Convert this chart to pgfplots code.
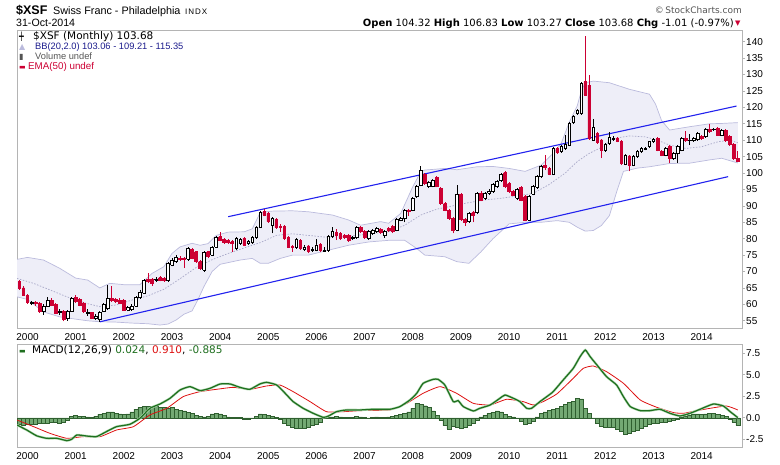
\documentclass[border=0pt]{standalone}
\usepackage{pgfplots}
\pgfplotsset{compat=1.18}
\usepackage{pgfplotstable}
\usepackage{fontspec}
\setmainfont{Liberation Sans}
\newfontfamily\dejavu{DejaVu Sans}
\definecolor{candlered}{HTML}{CC0033}
\definecolor{bbfill}{HTML}{EEEEF8}
\definecolor{bbedge}{HTML}{BBBBDD}
\definecolor{bbmid}{HTML}{A8A8C8}
\definecolor{chan}{HTML}{2222EE}
\definecolor{framegray}{HTML}{B4B4B4}
\definecolor{macdgreen}{HTML}{1F6F1F}
\definecolor{macdglow}{HTML}{B8DEB8}
\definecolor{sigred}{HTML}{DD1111}
\definecolor{histfill}{HTML}{73A973}
\definecolor{histedge}{HTML}{2F5F2F}
\definecolor{bbtext}{HTML}{1A1A8C}
\definecolor{txtgray}{HTML}{555555}

% up (hollow) candles: month index (0 = Jan 2000), open, high, low, close
\pgfplotstableread{
m o h l c
1 60.3 61.0 59.8 60.5
4 58.0 60.0 56.9 59.5
5 59.5 62.1 59.2 61.3
8 57.5 58.5 56.8 57.8
10 55.6 58.3 55.0 57.9
11 57.9 62.2 57.6 61.8
15 57.3 58.5 56.5 57.6
17 55.7 57.0 55.2 56.3
18 55.4 58.0 54.6 57.7
19 58.0 60.4 57.6 60.0
20 58.8 65.9 58.4 61.8
25 58.2 59.4 57.9 59.0
26 58.4 60.0 58.1 59.5
27 59.5 62.4 59.2 62.0
28 62.0 64.4 61.7 63.8
29 63.5 67.8 63.2 67.4
32 67.4 68.3 66.9 67.7
35 67.2 72.8 66.9 72.5
36 72.0 74.0 71.6 73.5
37 73.0 75.0 72.6 74.3
40 73.7 77.4 73.3 77.0
44 70.4 76.1 70.0 75.7
46 75.0 77.9 74.7 77.5
47 77.5 80.8 77.2 80.4
52 77.0 80.5 76.6 80.1
53 78.6 80.3 78.2 79.8
55 78.6 79.6 78.2 79.1
56 78.8 80.8 78.4 80.4
57 80.4 84.0 80.0 83.6
58 83.6 88.4 83.2 88.0
61 84.1 86.6 81.6 86.2
67 77.3 80.2 76.9 79.8
69 76.8 78.0 76.4 77.5
71 76.5 77.5 76.0 76.8
72 76.5 80.0 76.1 78.1
74 76.2 77.6 76.0 76.5
75 76.3 81.0 76.0 80.6
76 80.6 83.6 80.2 82.1
81 80.1 80.9 79.7 80.4
82 80.4 83.8 80.0 83.4
85 80.1 82.5 79.7 82.1
86 81.6 83.0 81.2 82.6
87 82.1 83.5 81.7 83.1
89 81.1 82.5 80.3 82.1
92 82.6 86.3 82.2 85.9
93 85.7 86.6 85.3 86.2
94 86.2 89.0 85.0 88.5
96 88.7 92.7 88.3 92.3
97 92.8 96.2 92.4 95.8
98 96.3 102.0 95.9 100.7
100 95.8 97.7 95.4 97.3
101 96.0 98.3 95.6 97.9
107 82.6 96.5 82.2 93.5
110 85.2 88.1 84.8 87.7
112 87.9 94.2 87.5 93.8
114 92.3 94.2 91.9 93.8
115 93.8 95.0 93.4 94.5
116 94.3 96.9 93.9 96.5
117 95.8 98.0 95.4 97.6
118 97.7 100.1 97.3 99.7
122 92.3 95.4 91.9 95.0
125 85.7 93.2 85.3 92.8
126 93.6 96.4 93.2 96.0
127 95.6 99.3 95.2 98.9
128 98.9 102.3 98.5 101.9
131 99.7 107.9 99.3 107.5
133 106.5 108.4 106.1 108.0
134 107.5 111.6 107.1 108.8
135 108.5 115.5 108.1 115.1
136 115.3 117.8 114.9 117.4
137 118.2 119.6 117.8 119.2
138 118.2 127.7 117.8 127.3
141 110.1 116.6 109.7 113.9
144 106.8 109.2 106.4 108.8
145 109.0 112.5 108.6 110.8
146 110.4 111.2 109.8 110.6
149 102.7 105.9 102.3 105.5
151 102.4 105.4 102.0 105.0
152 105.0 106.9 104.6 106.5
153 106.5 107.9 106.1 107.5
154 107.3 108.0 106.9 107.6
155 108.0 109.9 107.6 109.5
156 109.5 110.6 109.1 110.2
159 105.5 107.9 105.1 107.5
161 104.5 106.4 104.1 106.0
162 106.0 108.4 103.0 108.0
163 107.0 110.9 106.6 110.5
165 109.9 112.0 108.5 110.1
166 110.0 110.9 109.6 110.5
167 110.2 112.5 109.8 112.1
169 111.1 113.7 110.7 113.3
171 113.2 113.8 112.8 113.4
173 111.6 113.3 111.2 112.9
}\upc

% down (red) candles
\pgfplotstableread{
m o h l c
-2 67.0 67.3 64.5 65.0
-1 65.0 65.5 62.5 62.8
0 62.8 63.2 60.2 60.5
2 60.5 61.0 59.6 60.2
3 60.3 60.6 57.4 57.8
6 61.3 61.8 59.5 59.8
7 60.0 60.3 57.0 57.4
9 57.9 58.2 54.8 55.3
12 62.2 63.0 60.5 60.9
13 61.5 61.8 59.4 59.8
14 60.3 60.6 57.4 57.8
16 57.5 57.8 55.4 55.8
21 61.9 65.6 60.8 61.1
22 61.5 62.0 60.5 60.8
23 61.3 61.8 60.0 60.3
24 61.1 61.5 58.0 58.2
30 67.7 69.4 66.5 66.9
31 67.6 68.0 65.6 66.4
33 68.1 68.6 67.0 67.4
34 67.9 68.4 66.9 67.2
38 74.0 74.6 73.3 73.7
39 74.0 74.4 71.0 73.7
41 76.8 77.2 73.7 74.0
42 76.0 76.4 72.6 73.0
43 73.0 73.4 70.5 71.0
45 76.0 76.4 74.0 74.5
48 80.6 82.1 79.2 79.6
49 79.8 80.2 78.4 78.8
50 79.6 80.0 78.4 78.8
51 79.1 79.5 76.0 78.6
54 80.1 80.5 77.7 78.1
59 88.2 88.9 86.8 87.2
60 87.7 88.1 84.8 85.2
62 85.9 86.3 83.0 83.4
63 83.7 84.5 82.1 83.5
64 83.8 84.2 79.7 80.1
65 80.4 80.8 77.1 77.5
66 77.7 78.2 76.0 77.4
68 79.6 80.0 76.6 77.0
70 77.8 78.2 75.6 76.0
73 78.3 78.7 75.9 76.3
77 81.8 83.1 79.6 81.1
78 81.6 82.0 79.7 80.1
79 81.1 81.5 80.0 80.4
80 81.1 81.5 79.0 79.4
83 83.4 84.0 81.7 82.1
84 82.1 82.5 80.0 80.4
88 82.8 83.2 81.4 81.8
90 83.1 83.5 82.0 82.4
91 83.8 84.2 81.7 82.1
95 88.7 89.1 86.9 88.2
99 99.7 100.1 96.4 96.8
102 98.7 99.1 95.6 96.0
103 95.3 95.7 90.3 90.7
104 90.7 91.1 88.3 88.7
105 88.7 89.1 85.8 86.2
106 86.2 86.6 81.6 82.6
108 93.5 93.9 85.5 85.9
109 85.9 86.3 84.0 84.9
111 87.9 88.4 85.0 87.2
113 93.8 94.6 91.4 91.8
119 100.1 100.5 95.4 95.8
120 96.8 97.2 93.9 94.3
121 94.5 94.9 92.9 93.3
123 95.6 96.0 91.4 91.8
124 92.8 93.2 85.3 85.7
129 102.4 105.4 100.9 101.7
130 101.4 101.8 99.3 99.7
132 107.5 107.9 105.8 106.2
139 127.8 141.8 123.4 123.8
140 126.8 130.0 110.2 110.6
142 112.1 112.5 108.9 109.3
143 110.1 110.5 104.5 107.0
147 110.6 111.0 109.3 109.7
148 109.7 110.1 102.4 102.8
150 105.2 105.6 100.5 102.4
157 110.5 110.9 106.6 107.0
158 106.5 106.9 105.1 105.5
160 108.0 108.4 103.0 104.5
164 110.5 112.8 109.6 110.0
168 111.1 111.5 110.2 110.6
170 113.3 115.0 112.2 112.6
172 113.6 114.0 111.2 111.6
174 113.0 113.4 109.6 110.0
175 111.1 111.5 108.3 108.7
176 108.7 109.1 104.1 104.5
177 104.32 106.83 103.27 103.68
}\dnc

% Bollinger band (20,2): upper, lower, middle
\pgfplotstableread{
m v
-2.62 73.7
0 74.3
4 73.5
8 71.0
12 68.0
15 67.4
18 65.0
20.5 66.4
24 66.0
28 66.0
31 69.4
34 71.5
36 75.5
38 77.5
41 78.6
43 78.0
45 78.5
47 81.0
50 82.0
54 82.1
56 83.0
58 88.0
61 88.4
66 88.5
70 88.2
76 87.2
80 85.7
83 84.1
88 85.2
90 84.7
93 87.7
96 95.8
98 100.4
99 100.9
104 101.4
107 101.0
112 101.9
116 102.0
120 101.4
124 100.5
128 102.4
131 106.0
133 109.0
135 115.5
137 120.5
138 125.0
139 127.5
141 128.0
145 127.5
150 125.5
155 124.0
156.5 121.0
158 116.0
160 113.1
165 114.1
170 115.0
173 115.1
177 115.35
}\bbup

\pgfplotstableread{
m v
-2.62 62.3
0 61.5
4 57.7
8 56.2
12 55.5
15 55.0
18 54.7
22 54.6
26 54.3
30 54.1
33 53.7
35 54.0
37 55.2
39 57.0
41 58.0
42.5 61.5
44 65.5
46 70.0
48 72.2
53 73.5
56 74.0
58 72.5
60 72.5
63 74.0
66 75.0
70 75.0
75 76.5
80 78.0
85 79.0
90 79.5
94 79.5
97 77.0
99 75.0
104 74.5
107 73.0
110 72.5
113 76.0
116 80.0
120 84.5
124 85.0
128 85.0
132 85.5
135 85.0
137 83.5
139 82.3
141 82.5
143 84.0
145 87.0
147 95.0
148.5 100.5
152 101.5
155 101.9
160 102.9
165 103.0
170 104.0
173 104.5
177 103.06
}\bblo

% band area: upper edge forward, then lower edge backward
\pgfplotstableread{
m v
-2.62 73.7
0 74.3
4 73.5
8 71.0
12 68.0
15 67.4
18 65.0
20.5 66.4
24 66.0
28 66.0
31 69.4
34 71.5
36 75.5
38 77.5
41 78.6
43 78.0
45 78.5
47 81.0
50 82.0
54 82.1
56 83.0
58 88.0
61 88.4
66 88.5
70 88.2
76 87.2
80 85.7
83 84.1
88 85.2
90 84.7
93 87.7
96 95.8
98 100.4
99 100.9
104 101.4
107 101.0
112 101.9
116 102.0
120 101.4
124 100.5
128 102.4
131 106.0
133 109.0
135 115.5
137 120.5
138 125.0
139 127.5
141 128.0
145 127.5
150 125.5
155 124.0
156.5 121.0
158 116.0
160 113.1
165 114.1
170 115.0
173 115.1
177 115.35
177 103.06
173 104.5
170 104.0
165 103.0
160 102.9
155 101.9
152 101.5
148.5 100.5
147 95.0
145 87.0
143 84.0
141 82.5
139 82.3
137 83.5
135 85.0
132 85.5
128 85.0
124 85.0
120 84.5
116 80.0
113 76.0
110 72.5
107 73.0
104 74.5
99 75.0
97 77.0
94 79.5
90 79.5
85 79.0
80 78.0
75 76.5
70 75.0
66 75.0
63 74.0
60 72.5
58 72.5
56 74.0
53 73.5
48 72.2
46 70.0
44 65.5
42.5 61.5
41 58.0
39 57.0
37 55.2
35 54.0
33 53.7
30 54.1
26 54.3
22 54.6
18 54.7
15 55.0
12 55.5
8 56.2
4 57.7
0 61.5
-2.62 62.3
}\bbarea

\pgfplotstableread{
m v
-2.62 67.9
1.5 66.4
5.6 64.4
9.8 62.3
14.7 60.3
18 59.3
22 59.8
26 61.3
30 62.6
34 64.6
38 67.8
42 71.2
46 73.6
50 75.5
54 77.2
58 78.8
62 81.0
66 81.5
70 81.0
74 80.5
78 80.5
82 81.0
86 81.6
90 82.1
94 84.1
98 87.2
102 89.0
106 90.0
110 91.0
114 91.8
118 92.3
122 93.0
126 93.8
130 96.5
134 100.0
137 103.5
140 106.0
143 107.8
146 110.5
150 111.3
154 111.0
157 110.0
160 108.5
164 107.5
168 108.0
172 109.5
175 110.0
177 109.21
}\bbmid

\pgfplotstableread{
m v
-2.62 -0.84
-0.2 -1.42
2.3 -2.1
4.8 -2.39
7.3 -2.39
9.8 -2.66
11 -2.5
12.3 -2.0
14.7 -2.12
17.2 -2.19
19.7 -1.6
22.2 -1.03
25.5 -0.76
28 -0.06
30.5 1.1
33 1.6
35.5 2.26
38 3.23
40.5 3.62
43 3.16
45.5 3.43
48 3.93
50.5 3.93
52.9 3.54
55.4 3.31
57.9 3.93
59.6 4.12
62.1 3.81
64.2 2.85
66.2 1.88
68.7 1.1
71.2 0.52
73.7 0.05
75 0.2
77 0.71
79.5 0.91
82.9 0.91
86.2 0.99
90.3 0.99
92.8 1.3
95.3 2.07
97 2.85
98.6 4.01
101.1 4.47
102.3 4.47
104 3.81
106.1 1.88
107.3 2.0
108.6 1.3
111.1 0.79
112.7 1.1
115.3 1.49
117.7 2.26
119 2.65
121.1 2.26
122.7 1.88
124.4 1.1
125.6 1.1
127.7 1.88
129.4 2.46
131 3.04
133.5 4.4
136 5.75
137.7 7.11
139 7.88
140.2 7.11
141.9 6.14
144.3 4.78
146.8 3.81
148.5 2.46
150.2 1.3
152.7 0.83
155.1 0.83
157.6 0.99
160.1 0.52
162.6 0.21
165.1 0.52
167.6 0.99
170.9 1.6
173.4 1.37
175.1 0.71
177 0.024
}\macd

\pgfplotstableread{
m v
-2.62 -0.26
1.5 -1.03
5.6 -1.81
9.8 -2.39
13.9 -2.19
18.1 -2.19
22.2 -1.42
26.4 -1.03
30.5 0.33
34.7 1.1
38.8 2.46
43 3.04
47.1 3.31
51.3 3.54
55.4 3.31
59.6 3.7
62.9 3.81
66.2 3.04
70.4 1.88
74.5 0.71
78.7 0.71
82.9 0.83
90.3 0.91
94.5 1.68
98.6 2.85
102.8 3.62
106.9 2.85
111.1 1.68
115.3 1.49
119.4 2.15
123.5 1.88
126 1.49
128.5 1.88
131.9 2.77
136 4.59
138.5 5.75
141 6.02
144.3 5.36
148.5 4.01
152.7 2.07
156.8 1.22
161 0.6
163.5 0.52
166.8 0.83
170.1 1.1
174.2 1.37
177 0.91
}\signal

\pgfplotstableread{
m v
-2 -0.8
-1 -0.85
0 -0.8
1 -0.75
2 -0.7
3 -0.65
4 -0.6
5 -0.6
6 -0.55
7 -0.55
8 -0.6
9 -0.5
10 -0.3
11 0.2
12 0.25
13 0.2
14 0.15
15 0.1
16 0.05
17 0.2
18 0.4
19 0.55
20 0.7
21 0.7
22 0.55
23 0.45
24 0.4
25 0.45
26 0.7
27 1.0
28 1.2
29 1.3
30 1.3
31 1.35
32 1.3
33 1.2
34 1.2
35 1.1
36 1.2
37 1.0
38 0.9
39 0.8
40 0.6
41 0.5
42 0.3
43 0.15
44 0.1
45 0.2
46 0.45
47 0.5
48 0.45
49 0.3
50 0.1
51 0.05
52 0.02
53 0.02
54 -0.2
55 -0.2
56 -0.05
57 0.2
58 0.45
59 0.4
60 0.3
61 0.2
62 0.05
63 -0.2
64 -0.6
65 -0.9
66 -1.1
67 -1.2
68 -1.2
69 -1.2
70 -1.1
71 -0.9
72 -0.8
73 -0.5
74 -0.1
75 0.02
76 0.1
77 0.15
78 0.1
79 0.05
80 0.05
81 0.05
82 0.15
83 0.1
84 0.02
85 -0.05
86 0.05
87 0.1
88 0.05
89 0.02
90 0.1
91 0.2
92 0.3
93 0.4
94 0.5
95 0.7
96 1.1
97 1.7
98 1.6
99 1.4
100 1.2
101 0.8
102 0.3
103 -0.3
104 -0.9
105 -1.3
106 -1.0
107 -1.1
108 -1.2
109 -1.1
110 -0.9
111 -0.6
112 -0.3
113 0.1
114 0.3
115 0.5
116 0.65
117 0.8
118 0.7
119 0.4
120 0.2
121 0.1
122 -0.1
123 -0.4
124 -0.7
125 -0.6
126 -0.4
127 0.1
128 0.5
129 0.7
130 0.9
131 1.0
132 1.1
133 1.3
134 1.6
135 1.8
136 1.9
137 2.3
138 2.2
139 1.1
140 0.5
141 -0.1
142 -0.6
143 -1.0
144 -1.1
145 -1.1
146 -1.1
147 -1.3
148 -1.6
149 -1.9
150 -1.8
151 -1.6
152 -1.4
153 -1.2
154 -1.0
155 -0.8
156 -0.6
157 -0.6
158 -0.5
159 -0.5
160 -0.4
161 -0.3
162 -0.2
163 0.02
164 0.2
165 0.35
166 0.45
167 0.45
168 0.4
169 0.45
170 0.5
171 0.5
172 0.4
173 0.3
174 0.2
175 -0.2
176 -0.5
177 -0.885
}\hist

\pgfplotsset{
  chartaxis/.style={
    scale only axis, anchor=south west,
    width=725pt,
    xmin=-2.62, xmax=178.05,
    axis line style={framegray, line width=0.7pt},
    xtick=\empty,
    extra x ticks={0,12,24,36,48,60,72,84,96,108,120,132,144,156,168},
    extra x tick labels={2000,2001,2002,2003,2004,2005,2006,2007,2008,2009,2010,2011,2012,2013,2014},
    extra x tick style={grid=none, major tick length=0pt, tick style={draw=none},
      tick label style={font=\fontsize{10}{12}\selectfont, inner sep=0pt, yshift=-5pt}},
    tick align=outside, ytick pos=right, yticklabel pos=right,
    major tick length=3pt,
    tick style={framegray, line width=0.6pt},
    yticklabel style={font=\fontsize{10}{12}\selectfont, inner xsep=1pt},
    /pgf/number format/assume math mode=true,
    clip=true,
  },
}

% candle drawing: table, wick/edge colour, fill colour
\newcommand\drawcandles[3]{%
  \pgfplotstablegetrowsof{#1}%
  \pgfmathtruncatemacro\kN{\pgfplotsretval-1}%
  \pgfplotsforeachungrouped \kI in {0,...,\kN}{%
    \pgfplotstablegetelem{\kI}{m}\of{#1}\let\kM\pgfplotsretval
    \pgfplotstablegetelem{\kI}{o}\of{#1}\let\kO\pgfplotsretval
    \pgfplotstablegetelem{\kI}{h}\of{#1}\let\kH\pgfplotsretval
    \pgfplotstablegetelem{\kI}{l}\of{#1}\let\kL\pgfplotsretval
    \pgfplotstablegetelem{\kI}{c}\of{#1}\let\kC\pgfplotsretval
    \pgfmathsetmacro\kA{\kM-0.33}%
    \pgfmathsetmacro\kB{\kM+0.33}%
    \edef\kDo{%
      \noexpand\addplot[#2, line width=0.7pt] coordinates {(\kM,\kL) (\kM,\kH)};
      \noexpand\addplot[draw=#2, fill=#3, line width=0.7pt] coordinates {(\kA,\kO) (\kB,\kO) (\kB,\kC) (\kA,\kC) (\kA,\kO)};
    }%
    \kDo
  }%
}

\begin{document}
\begin{tikzpicture}
\useasboundingbox (0pt,0pt) rectangle (780pt,-465pt);

\begin{axis}[chartaxis, at={(17pt,-328pt)}, height=298pt,
  ymin=52.8, ymax=143.56, ytick={55,60,...,140}]
  % Bollinger bands
  \addplot[fill=bbfill, draw=none] table[x=m, y=v] {\bbarea};
  \addplot[bbedge, line width=0.7pt] table[x=m, y=v] {\bbup};
  \addplot[bbedge, line width=0.7pt] table[x=m, y=v] {\bblo};
  \addplot[bbmid, line width=0.7pt, dash pattern=on 1.5pt off 1.5pt] table[x=m, y=v] {\bbmid};
  % channel lines
  \addplot[chan, line width=1.1pt] coordinates {(18.07,54.7) (174.6,98.9)};
  \addplot[chan, line width=1.1pt] coordinates {(50.0,86.7) (176.7,120.4)};
  % candles
  \drawcandles{\upc}{black}{white}
  \drawcandles{\dnc}{candlered}{candlered}
\end{axis}

\begin{axis}[chartaxis, at={(17pt,-447.7pt)}, height=103.7pt,
  ymin=-3.48, ymax=8.58, ytick={-2.5,0,2.5,5,7.5},
  yticklabels={-2.5,0.0,2.5,5.0,7.5}]
  \addplot[ybar, bar width=1, fill=histfill, draw=histedge, line width=0.45pt] table[x=m, y=v] {\hist};
  \addplot[sigred, line width=0.8pt, smooth, tension=0.3] table[x=m, y=v] {\signal};
  \addplot[macdglow, line width=2.4pt, smooth, tension=0.3] table[x=m, y=v] {\macd};
  \addplot[macdgreen, line width=1.25pt, smooth, tension=0.3] table[x=m, y=v] {\macd};
\end{axis}

% header texts
\node[anchor=base west, inner sep=0pt] at (16pt,-15pt) {\fontsize{12.5}{14}\selectfont\bfseries \$XSF};
\node[anchor=base west, inner sep=0pt] at (53pt,-15pt) {\fontsize{10.8}{13}\selectfont Swiss Franc - Philadelphia};
\node[anchor=base west, inner sep=0pt] at (185pt,-15pt) {\fontsize{8}{10}\selectfont\addfontfeature{LetterSpace=12}INDX};
\node[anchor=base west, inner sep=0pt] at (16pt,-26.5pt) {\fontsize{10.6}{13}\selectfont 31-Oct-2014};
\node[anchor=base east, inner sep=0pt, text=txtgray] at (742pt,-14pt) {\dejavu\fontsize{9}{11}\selectfont \textcopyright\,StockCharts.com};
\node[anchor=base east, inner sep=0pt] at (734pt,-26.5pt) {\dejavu\fontsize{10}{12}\selectfont \textbf{Open} 104.32 \textbf{High} 106.83 \textbf{Low} 103.27 \textbf{Close} 103.68 \textbf{Chg} -1.01 (-0.97\%)};
\node[anchor=base west, inner sep=0pt, text=candlered] at (735pt,-26pt) {\dejavu\fontsize{7}{8}\selectfont ▼};

% legend of the price panel
\node[anchor=base west, inner sep=0pt] at (33pt,-39.5pt) {\dejavu\fontsize{10.5}{12}\selectfont \$XSF (Monthly) 103.68};
\node[anchor=base west, inner sep=0pt, text=bbtext] at (35pt,-49.5pt) {\fontsize{9.3}{11}\selectfont BB(20,2.0) 103.06 - 109.21 - 115.35};
\node[anchor=base west, inner sep=0pt, text=txtgray] at (35pt,-59.5pt) {\fontsize{9.3}{11}\selectfont Volume undef};
\node[anchor=base west, inner sep=0pt, text=candlered] at (28pt,-70pt) {\fontsize{9.8}{11}\selectfont EMA(50) undef};
\node[anchor=base west, inner sep=0pt, text=candlered] at (19pt,-70pt) {\dejavu\fontsize{7}{8}\selectfont\bfseries ▬};
\node[anchor=base west, inner sep=0pt, text=black] at (19pt,-39.5pt) {\dejavu\fontsize{8}{8}\selectfont ┿};
\node[anchor=base west, inner sep=0pt, text=bbedge] at (19pt,-49.5pt) {\dejavu\fontsize{8}{8}\selectfont ▲};
\node[anchor=base west, inner sep=0pt, text=txtgray] at (19pt,-59.5pt) {\dejavu\fontsize{8}{8}\selectfont ▮};

% legend of the MACD panel
\node[anchor=base west, inner sep=0pt, text=macdgreen] at (19pt,-354pt) {\dejavu\fontsize{7}{8}\selectfont\bfseries ▬};
\node[anchor=base west, inner sep=0pt] at (32pt,-354pt) {\dejavu\fontsize{10.5}{12}\selectfont MACD(12,26,9) \textcolor{macdgreen}{0.024}, \textcolor{sigred}{0.910}, \textcolor{macdgreen}{-0.885}};
\end{tikzpicture}
\end{document}
